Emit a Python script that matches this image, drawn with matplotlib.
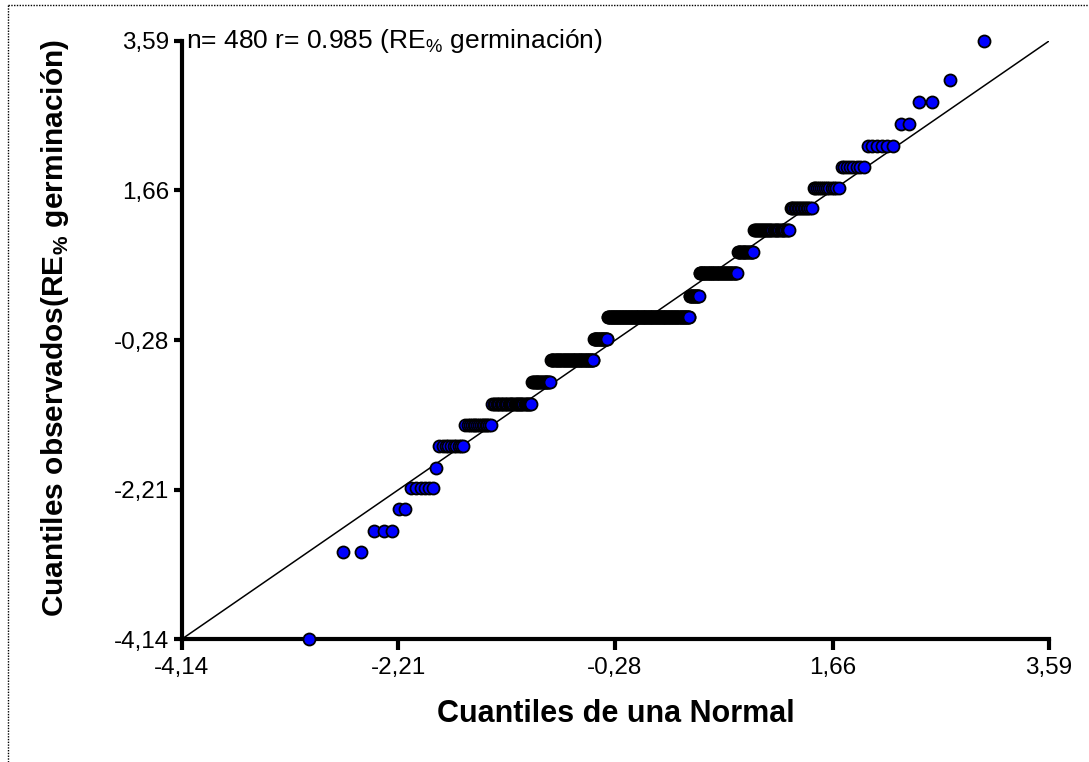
import matplotlib
matplotlib.use('Agg')

import numpy as np
import matplotlib.pyplot as plt
from matplotlib.lines import Line2D
from statistics import NormalDist

plt.rcParams['font.family'] = ['Liberation Sans', 'DejaVu Sans']
plt.rcParams['mathtext.fontset'] = 'custom'
plt.rcParams['mathtext.rm'] = 'Liberation Sans'
plt.rcParams['mathtext.bf'] = 'Liberation Sans:bold'

# observed residual levels (sorted) and how many of the 480 values sit on each
levels = [-4.14, -3.02, -2.74, -2.46, -2.19, -1.93, -1.65, -1.37, -1.10, -0.82,
          -0.53, -0.26, 0.02, 0.29, 0.59, 0.86, 1.15, 1.43, 1.69, 1.96,
          2.23, 2.52, 2.80, 3.09, 3.59]
counts = [1, 2, 3, 2, 6, 1, 10, 15, 33, 21,
          59, 22, 137, 15, 53, 19, 33, 15, 13, 8,
          6, 2, 2, 1, 1]

ticks = [-4.14, -2.21, -0.28, 1.66, 3.59]
ticklabels = ['-4,14', '-2,21', '-0,28', '1,66', '3,59']
lims = (-4.14, 3.59)

observed = np.repeat(levels, counts)
n = len(observed)
# theoretical normal quantiles for each rank (Blom plotting positions)
nd = NormalDist()
theor = np.array([nd.inv_cdf((i - 0.375) / (n + 0.25)) for i in range(1, n + 1)])

fig = plt.figure(figsize=(10.89, 7.62), dpi=100)
ax = fig.add_axes([0.1671, 0.1614, 0.7962, 0.7848])

ax.plot(lims, lims, color='black', linewidth=1.1, zorder=1)
ax.scatter(theor, observed, s=75, facecolor='#0000ff', edgecolor='black',
           linewidth=1.3, zorder=3, clip_on=False)

ax.set_xlim(lims)
ax.set_ylim(lims)
ax.set_xticks(ticks)
ax.set_xticklabels(ticklabels)
ax.set_yticks(ticks)
ax.set_yticklabels(ticklabels)

for s in ['top', 'right']:
    ax.spines[s].set_visible(False)
for s in ['left', 'bottom']:
    ax.spines[s].set_linewidth(3)
ax.tick_params(axis='both', direction='out', width=3, length=6, labelsize=17.5, pad=3)
ax.tick_params(axis='x', length=8, pad=5)

ax.set_xlabel('Cuantiles de una Normal', fontsize=22, fontweight='bold')
ax.xaxis.set_label_coords(0.5, -0.1)
ax.set_ylabel(r'Cuantiles observados(RE$_{\mathbf{\%}}$ germinación)', fontsize=21.5,
              fontweight='bold')
ax.yaxis.set_label_coords(-0.128, 0.52)

ax.text(0.005, 1.0, r'n= 480 r= 0.985 (RE$_{\%}$ germinación)', transform=ax.transAxes,
        fontsize=19, ha='left', va='center')

# dotted frame remnants
fig.add_artist(Line2D([0.0075, 0.0075], [0.0, 0.994], transform=fig.transFigure,
                      color='black', linewidth=1, linestyle=(0, (1, 1))))
fig.add_artist(Line2D([0.0075, 1.0], [0.994, 0.994], transform=fig.transFigure,
                      color='black', linewidth=1, linestyle=(0, (1, 1))))

fig.savefig('out.png', dpi=100)
